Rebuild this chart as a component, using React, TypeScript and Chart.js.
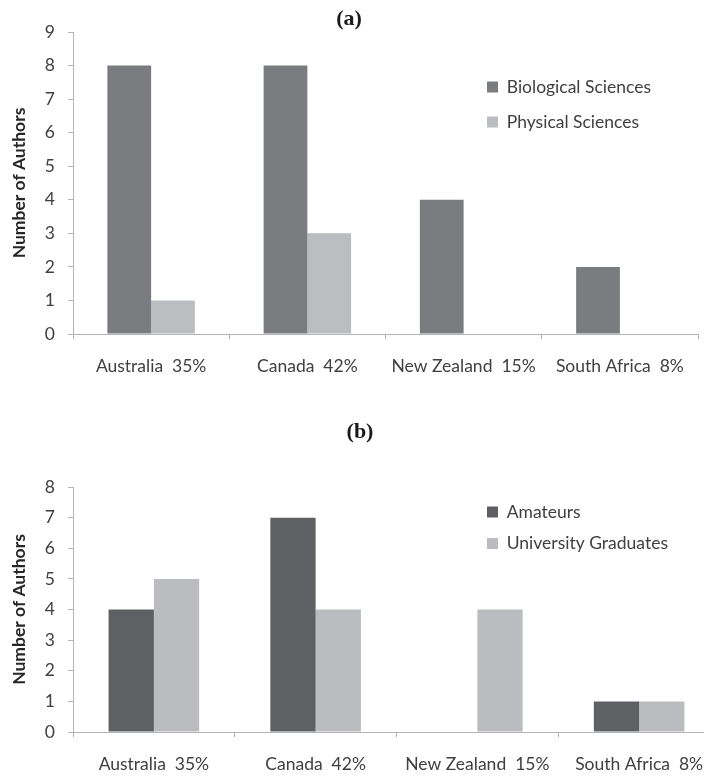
import React, { useEffect, useRef } from 'react';
import { Chart, registerables } from 'chart.js';

Chart.register(...registerables);

// ---- data ----
const categories = ['Australia  35%', 'Canada  42%', 'New Zealand  15%', 'South Africa  8%'];
const biologicalSciences = [8, 8, 4, 2];
const physicalSciences = [1, 3, 0, 0];
const amateurs = [4, 7, 0, 1];
const universityGraduates = [5, 4, 4, 1];
const yMaxA = 9;
const yMaxB = 8;
const yTitle = 'Number of Authors';

// ---- style ----
const FONT = 'Lato, "Open Sans", sans-serif';
const AXIS = '#b4b4b8';
const TEXT = '#404040';
const CANVAS_W = 756;

const legendPlace = {
  id: 'legendPlace',
  afterLayout(chart: any, _args: any, opts: any) {
    const l = chart.legend;
    if (!l || opts == null || opts.x == null) return;
    const w = l.width;
    const h = l.height;
    l.left = opts.x;
    l.top = opts.y;
    l.right = opts.x + w;
    l.bottom = opts.y + h;
  },
};

type Series = { label: string; data: number[]; color: string };

type PanelProps = {
  top: number;
  height: number;
  title: string;
  series: Series[];
  yMax: number;
  padRight: number;
  titlePadTop: number;
  titlePadBottom: number;
  xAxisHeight: number;
  legendX: number;
  legendY: number;
  legendPad: number;
};

function Panel(p: PanelProps) {
  const ref = useRef<HTMLCanvasElement>(null);
  useEffect(() => {
    if (!ref.current) return;
    const fontSize = 17.5;
    const chart = new Chart(ref.current, {
      type: 'bar',
      data: {
        labels: categories,
        datasets: p.series.map((s) => ({
          label: s.label,
          data: s.data,
          backgroundColor: s.color,
          borderColor: s.color,
          borderWidth: 0,
          categoryPercentage: 0.56,
          barPercentage: 1,
        })),
      },
      options: {
        responsive: false,
        animation: false,
        devicePixelRatio: 1,
        events: [],
        layout: { padding: { left: 0, right: p.padRight, top: 0, bottom: 0 } },
        plugins: {
          title: {
            display: true,
            text: p.title,
            color: '#1a1a1a',
            font: { family: '"Liberation Serif", "Times New Roman", serif', weight: 'bold', size: 22, lineHeight: 1 },
            padding: { top: p.titlePadTop, bottom: p.titlePadBottom },
          },
          legend: {
            position: 'chartArea',
            align: 'start',
            fullSize: false,
            labels: {
              boxWidth: 11,
              boxHeight: 11,
              padding: p.legendPad,
              color: TEXT,
              font: { family: FONT, size: fontSize },
            },
          },
          tooltip: { enabled: false },
          legendPlace: { x: p.legendX - p.legendPad, y: p.legendY - fontSize / 2 - p.legendPad },
        } as any,
        scales: {
          x: {
            grid: { drawOnChartArea: false, drawTicks: true, tickLength: 5, color: AXIS, offset: true },
            border: { color: AXIS, width: 1 },
            ticks: { color: TEXT, padding: 16.5, font: { family: FONT, size: fontSize }, maxRotation: 0, autoSkip: false },
            afterFit: (s: any) => {
              s.height = p.xAxisHeight;
            },
          },
          y: {
            min: 0,
            max: p.yMax,
            ticks: { stepSize: 1, color: TEXT, padding: 13, font: { family: FONT, size: fontSize } },
            grid: { drawOnChartArea: false, drawTicks: true, tickLength: 5, color: AXIS },
            border: { color: AXIS, width: 1 },
            title: {
              display: true,
              text: yTitle,
              color: '#262626',
              font: { family: FONT, weight: 'bold', size: fontSize },
              padding: { top: 8.5, bottom: 0 },
            },
            afterFit: (s: any) => {
              s.width = 73;
            },
          },
        },
      },
      plugins: [legendPlace as any],
    });
    return () => chart.destroy();
  }, []);
  return (
    <div style={{ position: 'absolute', left: 0, top: p.top, width: 704, height: p.height, overflow: 'hidden' }}>
      <canvas ref={ref} width={CANVAS_W} height={p.height} style={{ display: 'block', width: CANVAS_W, height: p.height }} />
    </div>
  );
}

export default function App() {
  return (
    <div style={{ position: 'absolute', left: 0, top: 0, width: 704, height: 776, background: '#ffffff', overflow: 'hidden' }}>
      <Panel
        top={0}
        height={390}
        title="(a)"
        series={[
          { label: 'Biological Sciences', data: biologicalSciences, color: '#7b7c80' },
          { label: 'Physical Sciences', data: physicalSciences, color: '#bcbdc1' },
        ]}
        yMax={yMaxA}
        padRight={CANVAS_W - 698}
        titlePadTop={8}
        titlePadBottom={2}
        xAxisHeight={56}
        legendX={487}
        legendY={87}
        legendPad={17.5}
      />
      <Panel
        top={390}
        height={386}
        title="(b)"
        series={[
          { label: 'Amateurs', data: amateurs, color: '#5f6064' },
          { label: 'University Graduates', data: universityGraduates, color: '#bbbcbf' },
        ]}
        yMax={yMaxB}
        padRight={CANVAS_W - 720}
        titlePadTop={31}
        titlePadBottom={44}
        xAxisHeight={44}
        legendX={487}
        legendY={122}
        legendPad={14}
      />
    </div>
  );
}
